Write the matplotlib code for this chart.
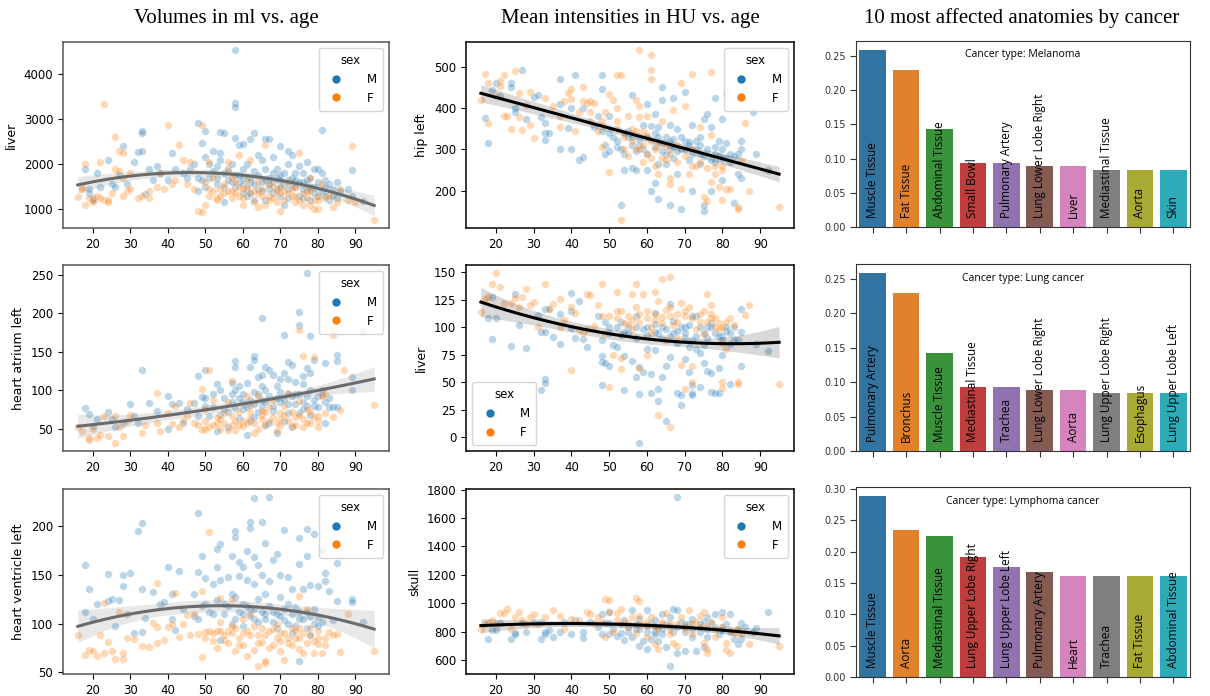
import matplotlib
matplotlib.use("Agg")
import matplotlib.pyplot as plt
import numpy as np
from matplotlib.lines import Line2D

# ---- scatter data: (age, value) ----
liver_vol_m = [
	(58, 4530), (58, 3370), (58, 3270), (33, 2740), (33, 2700), (81, 2760), (48, 2910),
	(50, 2750), (54, 2720), (55, 2690), (59, 2430), (60, 2440), (63, 2700), (66, 2550),
	(67, 2570), (62, 2550), (72, 2300), (28, 2400), (24, 2100), (18, 1900), (21, 1800),
	(25, 1550), (26, 1500), (19, 1350), (20, 1200), (27, 1750), (32, 2270), (33, 2290),
	(31, 2050), (34, 1330), (35, 1900), (37, 1950), (38, 1800), (40, 1650), (41, 2250),
	(42, 1900), (44, 1800), (46, 1900), (47, 2000), (48, 1700), (49, 2470), (50, 2150),
	(51, 2000), (52, 2300), (53, 1950), (54, 2100), (54, 2250), (55, 1800), (56, 1900),
	(57, 2000), (58, 2580), (58, 1750), (59, 1600), (60, 1900), (61, 2000), (62, 1700),
	(63, 1850), (64, 2200), (65, 1600), (66, 1900), (67, 1700), (68, 2150), (68, 1600),
	(69, 1900), (70, 2400), (70, 1500), (71, 1800), (72, 2000), (72, 1650), (73, 2200),
	(74, 1500), (75, 1950), (75, 1300), (76, 1800), (77, 2050), (77, 1400), (78, 1700),
	(79, 1900), (79, 1500), (80, 1900), (80, 1300), (81, 1800), (82, 1650), (82, 1500),
	(83, 1200), (84, 1450), (85, 1600), (85, 1250), (89, 1870), (89, 1300), (62, 1350),
	(63, 1200), (66, 1200), (57, 1600), (55, 1150), (53, 1700), (50, 1500), (48, 1400),
	(64, 1450), (68, 1350), (71, 1100), (73, 1550), (76, 1600), (78, 1200), (60, 1550),
	(61, 1300), (65, 2100), (69, 1700), (74, 1800), (70, 1650), (67, 1450), (59, 1750),
	(56, 1650), (58, 1500), (60, 1700), (61, 1450), (62, 1600), (63, 1550), (64, 1750),
	(65, 1400), (66, 1650), (67, 1550), (68, 1800), (69, 1450), (70, 1750), (71, 1550),
	(72, 1450), (73, 1700), (74, 1650), (75, 1600), (76, 1450), (77, 1650), (78, 1500),
	(79, 1350), (80, 1600), (81, 1400), (82, 1300), (83, 1550), (84, 1300), (86, 1400),
	(88, 1450), (92, 1180), (52, 1850), (51, 1700), (49, 1650), (53, 1550), (55, 1500),
	(45, 1700), (60, 1350), (70, 1300), (76, 1250), (72, 1250), (19, 1450), (20, 1250),
	(22, 1500), (29, 1550), (36, 1650),
]
liver_vol_f = [
	(23, 3340), (40, 2880), (49, 2870), (26, 2600), (43, 2430), (27, 2300), (28, 2250),
	(18, 2000), (22, 2050), (17, 1500), (16, 1270), (18, 1100), (20, 1200), (23, 1200),
	(24, 1200), (26, 1900), (27, 1850), (28, 1700), (29, 1400), (30, 1800), (33, 1300),
	(35, 1250), (37, 1500), (38, 1800), (39, 1450), (41, 1550), (42, 1650), (44, 2100),
	(45, 1550), (46, 2050), (47, 1450), (48, 950), (49, 930), (50, 1100), (51, 1300),
	(52, 1400), (53, 1250), (54, 1450), (55, 1350), (56, 2050), (57, 1400), (58, 1600),
	(59, 1300), (60, 1100), (61, 1500), (62, 2100), (63, 1400), (64, 1050), (65, 1300),
	(66, 2430), (67, 1300), (68, 1500), (69, 1150), (70, 950), (71, 1400), (72, 1600),
	(73, 1300), (74, 1150), (75, 2250), (76, 1100), (77, 1400), (78, 1700), (79, 1200),
	(80, 1000), (80, 1300), (81, 1550), (83, 1300), (84, 1050), (86, 1450), (88, 1200),
	(95, 770), (89, 2400), (56, 1850), (59, 2200), (52, 1700), (50, 1600), (51, 2050),
	(53, 1200), (60, 1450), (64, 1600), (67, 1200), (70, 1350), (74, 1500), (78, 1100),
	(54, 1300), (57, 1700), (55, 1550), (56, 1400), (57, 1250), (58, 1350), (59, 1500),
	(60, 1250), (61, 1650), (62, 1350), (63, 1150), (64, 1350), (65, 1450), (66, 1100),
	(67, 1550), (68, 1250), (69, 1400), (70, 1500), (71, 1200), (72, 1350), (73, 1450),
	(74, 1300), (75, 1200), (76, 1350), (77, 1250), (78, 1400), (79, 1000), (80, 1200),
	(82, 1250), (85, 1150), (90, 1150), (51, 1450), (17, 1450), (19, 1250), (20, 1150),
	(21, 1300), (22, 1250), (24, 1150), (25, 1350), (28, 1300), (30, 1450), (32, 1250),
	(35, 1400),
]

atrium_m = [
	(77, 252), (75, 202), (65, 194), (75, 185), (71, 172), (78, 171), (92, 177), (33, 126),
	(50, 126), (58, 138), (58, 130), (63, 145), (63, 140), (62, 130), (66, 130), (67, 127),
	(72, 137), (73, 133), (77, 129), (79, 140), (82, 135), (85, 146), (85, 138), (64, 117),
	(65, 120), (70, 115), (71, 122), (74, 111), (76, 119), (78, 122), (89, 117), (89, 100),
	(18, 77), (19, 69), (21, 63), (24, 72), (25, 62), (30, 82), (32, 58), (35, 83),
	(37, 73), (40, 93), (41, 82), (43, 84), (45, 75), (47, 83), (48, 119), (48, 67),
	(49, 91), (50, 80), (52, 95), (53, 108), (53, 47), (54, 101), (55, 90), (56, 72),
	(57, 95), (58, 77), (59, 106), (60, 85), (61, 110), (61, 42), (62, 60), (63, 98),
	(64, 72), (65, 88), (66, 100), (67, 57), (68, 73), (69, 105), (70, 85), (71, 60),
	(72, 82), (73, 52), (74, 95), (75, 70), (76, 108), (77, 92), (78, 68), (79, 80),
	(80, 93), (81, 94), (82, 57), (83, 78), (84, 78), (85, 78), (20, 53), (26, 52),
	(28, 58), (31, 67), (40, 50), (44, 58), (51, 66), (56, 52), (59, 64), (66, 55),
	(69, 45), (72, 115), (68, 120), (60, 75), (63, 65), (57, 110), (55, 75), (57, 85),
	(59, 90), (60, 95), (61, 78), (62, 88), (63, 82), (64, 95), (65, 78), (66, 85),
	(67, 92), (68, 80), (69, 90), (70, 98), (71, 88), (72, 70), (73, 92), (74, 82),
	(75, 95), (76, 85), (77, 80), (78, 100), (79, 88), (80, 78), (81, 100), (82, 85),
	(83, 90), (52, 78), (54, 68), (50, 90), (58, 100), (65, 105), (72, 95), (76, 75),
]
atrium_f = [
	(75, 178), (84, 177), (84, 172), (76, 145), (79, 143), (51, 126), (87, 126), (57, 112),
	(95, 81), (37, 97), (49, 102), (19, 35), (19, 38), (16, 52), (17, 47), (20, 50),
	(21, 38), (22, 42), (23, 67), (24, 41), (26, 32), (26, 66), (27, 52), (28, 40),
	(29, 60), (30, 68), (33, 45), (34, 55), (37, 58), (38, 47), (40, 70), (41, 56),
	(42, 80), (43, 52), (44, 60), (46, 84), (47, 57), (48, 55), (49, 48), (50, 75),
	(51, 52), (52, 88), (53, 65), (54, 50), (55, 70), (56, 85), (57, 55), (58, 48),
	(59, 72), (60, 53), (61, 92), (62, 62), (63, 45), (64, 93), (65, 68), (66, 55),
	(67, 78), (68, 88), (69, 47), (70, 62), (71, 80), (72, 97), (73, 54), (74, 65),
	(75, 86), (76, 52), (77, 75), (78, 58), (80, 60), (80, 67), (81, 92), (82, 95),
	(86, 74), (52, 55), (55, 57), (60, 60), (65, 73), (70, 70), (62, 80), (50, 49),
	(45, 66), (50, 60), (53, 57), (54, 62), (56, 48), (57, 67), (58, 60), (59, 55),
	(61, 58), (62, 70), (63, 58), (64, 50), (65, 62), (66, 72), (67, 60), (68, 65),
	(69, 58), (70, 55), (71, 68), (72, 60), (73, 72), (74, 55), (75, 68), (76, 62),
	(77, 58), (78, 72), (79, 65), (80, 52), (82, 70), (84, 65),
]

ventricle_m = [
	(48, 213), (63, 228), (67, 229), (33, 203), (32, 195), (62, 204), (65, 204), (62, 198),
	(71, 196), (77, 197), (79, 192), (58, 195), (58, 188), (75, 187), (66, 182), (54, 181),
	(53, 176), (61, 174), (81, 175), (69, 171), (57, 169), (18, 160), (49, 169), (63, 168),
	(77, 169), (59, 163), (68, 165), (85, 162), (75, 161), (40, 158), (53, 158), (24, 151),
	(28, 150), (30, 152), (43, 154), (48, 153), (60, 158), (64, 160), (72, 148), (82, 152),
	(19, 135), (28, 138), (33, 135), (41, 130), (47, 130), (50, 147), (52, 140), (54, 145),
	(56, 148), (59, 149), (61, 145), (63, 140), (65, 150), (67, 143), (70, 150), (73, 135),
	(76, 135), (78, 139), (80, 138), (82, 143), (83, 133), (18, 112), (20, 105), (21, 120),
	(24, 123), (25, 125), (26, 98), (27, 124), (29, 110), (31, 90), (33, 91), (34, 106),
	(36, 132), (38, 120), (39, 122), (41, 105), (42, 93), (44, 115), (47, 108), (49, 118),
	(51, 112), (53, 124), (55, 120), (57, 130), (58, 127), (60, 120), (62, 115), (64, 125),
	(66, 130), (68, 112), (70, 127), (71, 104), (72, 120), (74, 117), (75, 105), (77, 112),
	(79, 115), (80, 107), (81, 102), (84, 104), (85, 123), (89, 125), (89, 122), (92, 102),
	(75, 62), (54, 83), (57, 100), (63, 105), (69, 95), (73, 90), (78, 88), (60, 97),
	(66, 110), (55, 110), (56, 118), (58, 105), (59, 112), (60, 110), (61, 118), (62, 108),
	(63, 115), (64, 102), (65, 112), (66, 105), (67, 118), (68, 102), (69, 110), (70, 108),
	(71, 115), (72, 100), (73, 110), (74, 98), (75, 112), (76, 105), (77, 95), (78, 108),
	(79, 100), (80, 98), (52, 110), (50, 120), (48, 105),
]
ventricle_f = [
	(51, 194), (37, 141), (49, 133), (42, 131), (54, 126), (57, 125), (75, 128), (23, 121),
	(16, 88), (18, 68), (19, 73), (20, 72), (21, 67), (22, 88), (23, 70), (24, 81),
	(25, 72), (26, 64), (27, 112), (28, 64), (28, 70), (29, 85), (31, 84), (33, 77),
	(35, 76), (36, 101), (37, 80), (37, 96), (39, 83), (40, 96), (41, 100), (43, 86),
	(44, 100), (45, 109), (46, 88), (47, 110), (48, 89), (49, 66), (50, 91), (51, 92),
	(52, 90), (53, 75), (54, 102), (55, 83), (56, 92), (57, 98), (58, 72), (59, 78),
	(60, 105), (61, 67), (62, 110), (63, 73), (64, 88), (65, 81), (66, 60), (67, 75),
	(68, 94), (69, 85), (70, 72), (71, 63), (72, 80), (73, 95), (74, 85), (75, 74),
	(76, 70), (77, 115), (78, 95), (79, 70), (80, 85), (80, 79), (81, 70), (82, 78),
	(83, 91), (85, 89), (86, 71), (88, 110), (95, 72), (64, 57), (66, 62), (60, 90),
	(53, 92), (70, 90), (75, 95), (50, 85), (52, 82), (54, 92), (55, 88), (56, 80),
	(57, 90), (58, 95), (59, 85), (60, 78), (61, 92), (62, 88), (63, 98), (64, 80),
	(65, 95), (66, 88), (67, 92), (68, 78), (69, 100), (70, 82), (71, 90), (72, 85),
	(73, 78), (74, 92), (75, 85), (76, 90), (77, 80), (78, 88), (79, 82), (80, 92),
	(82, 85), (84, 88),
]

hip_m = [
	(27, 492), (41, 481), (48, 480), (37, 470), (20, 460), (24, 460), (24, 452), (19, 445),
	(21, 430), (30, 428), (31, 432), (56, 432), (64, 452), (70, 440), (78, 424), (88, 390),
	(80, 375), (17, 377), (18, 315), (25, 400), (25, 390), (28, 375), (32, 378), (33, 365),
	(33, 340), (33, 322), (34, 340), (37, 410), (37, 302), (39, 353), (40, 400), (40, 302),
	(42, 275), (43, 282), (43, 400), (46, 355), (47, 380), (48, 447), (48, 345), (49, 310),
	(49, 290), (50, 380), (50, 295), (51, 330), (52, 305), (53, 165), (54, 250), (54, 290),
	(55, 345), (56, 310), (56, 255), (57, 295), (57, 250), (58, 325), (59, 300), (59, 360),
	(60, 410), (60, 250), (61, 357), (61, 200), (62, 385), (62, 218), (63, 355), (63, 180),
	(64, 420), (64, 295), (65, 330), (65, 265), (66, 360), (66, 165), (67, 425), (67, 325),
	(68, 350), (68, 240), (69, 155), (69, 300), (70, 320), (71, 275), (72, 360), (72, 200),
	(73, 320), (74, 290), (74, 330), (75, 150), (75, 165), (75, 375), (76, 385), (77, 355),
	(77, 200), (78, 305), (79, 320), (80, 280), (80, 225), (81, 315), (81, 280), (82, 290),
	(83, 285), (83, 170), (84, 240), (85, 320), (85, 230), (85, 300), (89, 290), (92, 250),
	(60, 330), (62, 340), (66, 300), (71, 318), (53, 300), (55, 330), (63, 265), (67, 280),
	(74, 265), (78, 270), (58, 310), (60, 290), (62, 305), (63, 330), (64, 315), (65, 290),
	(66, 320), (67, 305), (68, 295), (69, 330), (70, 300), (71, 310), (72, 290), (73, 300),
	(74, 310), (75, 285), (76, 300), (77, 275), (78, 290), (79, 285), (80, 300), (82, 270),
	(84, 290), (50, 340), (52, 320), (54, 340), (56, 330),
]
hip_f = [
	(58, 540), (61, 528), (61, 492), (61, 470), (52, 480), (17, 482), (25, 490), (22, 480),
	(77, 488), (72, 482), (69, 462), (16, 420), (18, 460), (18, 365), (20, 430), (21, 465),
	(21, 455), (22, 382), (23, 382), (24, 350), (26, 437), (26, 378), (27, 347), (28, 408),
	(29, 360), (29, 440), (30, 328), (33, 425), (35, 405), (37, 380), (37, 355), (38, 418),
	(39, 437), (40, 447), (40, 422), (41, 345), (42, 390), (43, 452), (43, 418), (44, 412),
	(45, 418), (45, 370), (46, 413), (47, 345), (48, 305), (49, 390), (50, 435), (50, 245),
	(51, 420), (52, 400), (52, 370), (53, 480), (53, 130), (54, 300), (55, 380), (55, 285),
	(56, 350), (57, 420), (57, 300), (58, 405), (58, 378), (59, 270), (60, 380), (60, 335),
	(61, 280), (62, 260), (63, 240), (64, 370), (65, 305), (66, 215), (66, 230), (67, 395),
	(68, 310), (69, 205), (70, 405), (71, 240), (72, 300), (73, 260), (74, 355), (75, 185),
	(76, 175), (77, 335), (77, 220), (78, 260), (79, 210), (80, 250), (80, 178), (81, 203),
	(81, 435), (82, 205), (84, 160), (84, 155), (85, 275), (86, 365), (87, 200), (95, 160),
	(63, 310), (59, 345), (65, 275), (52, 350), (54, 330), (56, 320), (57, 345), (58, 300),
	(59, 310), (60, 290), (61, 320), (62, 300), (64, 280), (66, 290), (68, 270), (70, 285),
	(72, 260), (74, 270), (76, 255), (78, 240), (80, 260), (48, 370), (45, 390),
]

liver_hu_m = [
	(19, 128), (25, 130), (40, 131), (42, 124), (18, 108), (20, 108), (19, 89), (24, 83),
	(26, 102), (28, 81), (31, 111), (32, 96), (33, 96), (33, 117), (34, 117), (32, 43),
	(33, 53), (33, 49), (35, 91), (37, 85), (37, 112), (40, 115), (40, 99), (41, 90),
	(43, 89), (44, 82), (47, 110), (48, 74), (48, 88), (48, 68), (48, 47), (49, 105),
	(49, 67), (50, 65), (50, 100), (51, 84), (52, 82), (53, 105), (53, 93), (54, 74),
	(54, 43), (55, 100), (56, 69), (57, 55), (57, 90), (58, 64), (58, 39), (58, -5),
	(59, 59), (59, 98), (60, 100), (60, 80), (61, 40), (61, 57), (62, 113), (62, 79),
	(63, 33), (63, 44), (63, 95), (64, 55), (64, 90), (65, 65), (65, 15), (66, 121),
	(66, 73), (67, 95), (68, 40), (68, 86), (69, 38), (69, 29), (69, 100), (70, 71),
	(70, 90), (71, 59), (71, 82), (72, 40), (72, 38), (72, 47), (73, 110), (73, 80),
	(74, 46), (74, 77), (75, 67), (75, 84), (76, 60), (76, 100), (77, 58), (77, 41),
	(78, 40), (79, 40), (79, 63), (80, 92), (80, 75), (81, 97), (82, 48), (82, 85),
	(83, 100), (84, 88), (85, 96), (85, 65), (85, 117), (89, 85), (92, 78), (57, 110),
	(62, 103), (67, 106), (72, 110), (77, 104), (70, 100), (55, 95), (57, 100), (60, 93),
	(62, 96), (64, 100), (65, 98), (66, 92), (68, 97), (70, 95), (71, 102), (72, 88),
	(73, 92), (74, 100), (75, 95), (76, 90), (77, 100), (78, 95), (79, 92), (80, 88),
	(81, 100), (82, 95), (83, 88), (52, 100), (54, 96), (50, 95),
]
liver_hu_f = [
	(20, 149), (19, 139), (21, 137), (33, 139), (48, 139), (57, 139), (64, 144), (66, 146),
	(62, 132), (52, 132), (56, 130), (28, 135), (27, 128), (25, 127), (30, 123), (37, 126),
	(44, 130), (45, 129), (18, 128), (16, 114), (17, 126), (22, 122), (24, 122), (26, 118),
	(29, 120), (31, 100), (34, 117), (35, 121), (37, 100), (38, 107), (40, 118), (40, 61),
	(41, 113), (42, 98), (43, 95), (44, 98), (46, 101), (47, 120), (48, 110), (49, 95),
	(50, 46), (51, 75), (52, 108), (53, 62), (53, 115), (54, 104), (55, 103), (56, 98),
	(57, 118), (58, 112), (59, 130), (60, 108), (60, 75), (61, 100), (62, 107), (63, 124),
	(64, 109), (65, 116), (65, 88), (66, 9), (66, 118), (67, 102), (68, 112), (69, 66),
	(69, 122), (70, 44), (70, 110), (71, 118), (72, 65), (72, 50), (73, 98), (74, 105),
	(75, 94), (75, 115), (76, 130), (77, 120), (77, 108), (78, 100), (79, 98), (80, 50),
	(80, 45), (80, 86), (81, 80), (82, 108), (84, 50), (84, 48), (86, 111), (87, 120),
	(95, 48), (63, 20), (58, 63), (53, 72), (61, 95), (68, 90), (55, 110), (58, 105),
	(60, 115), (62, 112), (64, 104), (66, 110), (68, 105), (70, 115), (72, 108), (74, 112),
	(76, 105), (77, 112), (78, 108), (79, 104), (80, 100), (81, 105), (83, 102), (52, 115),
	(50, 110), (56, 107),
]

skull_m = [
	(18, 745), (19, 810), (20, 810), (21, 860), (24, 750), (25, 790), (25, 780), (27, 860),
	(28, 795), (30, 870), (32, 745), (32, 870), (33, 800), (33, 780), (34, 810), (35, 760),
	(37, 800), (38, 870), (40, 785), (41, 880), (43, 755), (43, 800), (45, 870), (47, 830),
	(48, 925), (48, 780), (49, 860), (50, 940), (50, 780), (51, 820), (52, 765), (53, 790),
	(54, 880), (54, 740), (55, 800), (56, 950), (56, 760), (57, 820), (58, 700), (58, 890),
	(59, 735), (60, 950), (60, 800), (60, 680), (61, 860), (61, 750), (62, 780), (62, 880),
	(63, 730), (63, 830), (64, 920), (64, 780), (65, 690), (65, 850), (66, 560), (66, 900),
	(67, 960), (67, 800), (68, 1745), (68, 650), (68, 950), (69, 870), (70, 660), (70, 800),
	(71, 850), (72, 890), (72, 760), (73, 660), (74, 800), (75, 690), (75, 870), (76, 900),
	(76, 760), (77, 860), (78, 920), (79, 780), (80, 940), (80, 830), (81, 850), (82, 925),
	(83, 750), (84, 710), (85, 860), (85, 750), (89, 825), (92, 935), (57, 850), (62, 800),
	(70, 830), (74, 850), (55, 830), (58, 820), (60, 840), (62, 830), (64, 820), (66, 840),
	(68, 830), (70, 850), (72, 820), (74, 830), (76, 820), (78, 830), (80, 810), (82, 800),
	(84, 820), (86, 830), (88, 800), (53, 850), (50, 860),
]
skull_f = [
	(16, 820), (17, 850), (18, 860), (19, 880), (20, 850), (21, 930), (22, 930), (23, 960),
	(24, 820), (25, 900), (26, 940), (27, 880), (28, 850), (29, 900), (30, 920), (31, 850),
	(33, 900), (35, 950), (37, 910), (38, 820), (40, 890), (42, 880), (44, 940), (45, 920),
	(46, 860), (47, 900), (48, 870), (49, 1030), (49, 760), (50, 1020), (50, 940), (51, 800),
	(52, 930), (53, 960), (54, 870), (55, 830), (56, 900), (57, 1035), (57, 790), (58, 1015),
	(58, 910), (59, 850), (60, 760), (61, 900), (62, 710), (63, 680), (63, 820), (64, 870),
	(65, 930), (66, 780), (67, 720), (68, 700), (69, 900), (70, 820), (71, 950), (72, 780),
	(73, 870), (74, 910), (75, 720), (75, 940), (76, 650), (76, 680), (77, 870), (78, 760),
	(80, 900), (81, 720), (81, 670), (82, 650), (83, 790), (85, 780), (87, 710), (95, 700),
	(60, 840), (66, 810), (55, 860), (58, 850), (60, 870), (62, 840), (64, 850), (66, 860),
	(68, 850), (70, 840), (72, 860), (74, 830), (76, 840), (78, 820), (80, 830), (82, 810),
	(84, 820), (52, 880),
]

# ---- bar data ----
melanoma_labels = ["Muscle Tissue", "Fat Tissue", "Abdominal Tissue", "Small Bowl",
	"Pulmonary Artery", "Lung Lower Lobe Right", "Liver", "Mediastinal Tissue", "Aorta", "Skin"]
melanoma_vals = [0.259, 0.230, 0.143, 0.093, 0.093, 0.089, 0.089, 0.084, 0.084, 0.084]

lung_labels = ["Pulmonary Artery", "Bronchus", "Muscle Tissue", "Mediastinal Tissue",
	"Trachea", "Lung Lower Lobe Right", "Aorta", "Lung Upper Lobe Right", "Esophagus",
	"Lung Upper Lobe Left"]
lung_vals = [0.259, 0.230, 0.143, 0.093, 0.093, 0.089, 0.089, 0.084, 0.084, 0.084]

lymphoma_labels = ["Muscle Tissue", "Aorta", "Mediastinal Tissue", "Lung Upper Lobe Right",
	"Lung Upper Lobe Left", "Pulmonary Artery", "Heart", "Trachea", "Fat Tissue",
	"Abdominal Tissue"]
lymphoma_vals = [0.289, 0.234, 0.225, 0.191, 0.176, 0.167, 0.162, 0.162, 0.162, 0.162]

BAR_COLORS = ["#3274a1", "#e1812c", "#3a923a", "#c03d3e", "#9372b2",
	"#845b53", "#d684bd", "#7f7f7f", "#a9aa35", "#2eabb8"]
C_M = "#1f77b4"
C_F = "#ff7f0e"

W, H = 1210, 696


def px_axes(fig, x0, y0, x1, y1):
	return fig.add_axes([x0 / W, 1 - y1 / H, (x1 - x0) / W, (y1 - y0) / H])


def fit_curve(x, y, order, xs):
	"""Least-squares polynomial fit with a 95% confidence band."""
	X = np.vander(x, order + 1)
	beta, *_ = np.linalg.lstsq(X, y, rcond=None)
	resid = y - X @ beta
	s2 = resid @ resid / (len(x) - order - 1)
	cov = s2 * np.linalg.inv(X.T @ X)
	Xs = np.vander(xs, order + 1)
	yhat = Xs @ beta
	se = np.sqrt(np.einsum("ij,jk,ik->i", Xs, cov, Xs))
	return yhat, yhat - 1.96 * se, yhat + 1.96 * se


def scatter_panel(ax, pts_m, pts_f, ylabel, order, line_color, legend_loc, spine_color):
	m = np.array(pts_m, dtype=float)
	f = np.array(pts_f, dtype=float)
	ax.scatter(m[:, 0], m[:, 1], s=30, c=C_M, alpha=0.3, edgecolors="white", linewidths=0.6)
	ax.scatter(f[:, 0], f[:, 1], s=30, c=C_F, alpha=0.3, edgecolors="white", linewidths=0.6)

	x = np.concatenate([m[:, 0], f[:, 0]])
	y = np.concatenate([m[:, 1], f[:, 1]])
	xs = np.linspace(x.min(), x.max(), 100)
	yhat, lo, hi = fit_curve(x, y, order, xs)
	ax.fill_between(xs, lo, hi, color=line_color, alpha=0.15, linewidth=0)
	ax.plot(xs, yhat, color=line_color, linewidth=2.2)

	ax.set_ylabel(ylabel, fontsize=9)
	ax.set_xticks(range(20, 100, 10))
	ax.tick_params(labelsize=8.5, length=3.5)
	for sp in ax.spines.values():
		sp.set_color(spine_color)
		sp.set_linewidth(1.1)

	handles = [
		Line2D([], [], marker="o", linestyle="", color=C_M, markersize=7, markeredgecolor="white"),
		Line2D([], [], marker="o", linestyle="", color=C_F, markersize=7, markeredgecolor="white"),
	]
	ax.legend(handles, ["M", "F"], title="sex", loc=legend_loc, fontsize=8.5,
		title_fontsize=8.5, handletextpad=1.6, borderpad=0.5)


def bar_panel(ax, labels, vals, cancer):
	pos = np.arange(len(labels))
	ax.bar(pos, vals, width=0.8, color=BAR_COLORS)
	ax.set_xlim(-0.5, len(labels) - 0.5)
	ax.set_xticks(pos)
	ax.set_xticklabels([])
	ax.tick_params(labelsize=7, length=4, colors="#333333")
	for p, lab in zip(pos, labels):
		ax.annotate(lab, (p, 0), xytext=(0, 6.5), textcoords="offset points", rotation=90,
			ha="center", va="bottom", fontsize=8.5, family=["Open Sans", "DejaVu Sans"])
	ax.text(0.5, 0.925, f"Cancer type: {cancer}", transform=ax.transAxes, ha="center",
		va="center", fontsize=7.5, family=["Open Sans", "DejaVu Sans"])
	for sp in ax.spines.values():
		sp.set_color("#333333")


def main():
	fig = plt.figure(figsize=(W / 100, H / 100), dpi=100)

	rows12 = [(42, 228), (265, 451), (489, 674)]
	rows3 = [(41, 227), (264, 451), (487, 677)]

	col1 = [
		(liver_vol_m, liver_vol_f, "liver"),
		(atrium_m, atrium_f, "heart atrium left"),
		(ventricle_m, ventricle_f, "heart ventricle left"),
	]
	col2 = [
		(hip_m, hip_f, "hip left", 1, "upper right"),
		(liver_hu_m, liver_hu_f, "liver", 2, "lower left"),
		(skull_m, skull_f, "skull", 2, "upper right"),
	]
	col3 = [
		(melanoma_labels, melanoma_vals, "Melanoma"),
		(lung_labels, lung_vals, "Lung cancer"),
		(lymphoma_labels, lymphoma_vals, "Lymphoma cancer"),
	]

	for (y0, y1), (pm, pf, lab) in zip(rows12, col1):
		ax = px_axes(fig, 63, y0, 389, y1)
		scatter_panel(ax, pm, pf, lab, 2, "#6b6b6b", "upper right", "#555555")

	for (y0, y1), (pm, pf, lab, order, loc) in zip(rows12, col2):
		ax = px_axes(fig, 466, y0, 794, y1)
		scatter_panel(ax, pm, pf, lab, order, "black", loc, "black")

	for (y0, y1), (labels, vals, cancer) in zip(rows3, col3):
		ax = px_axes(fig, 856, y0, 1190, y1)
		bar_panel(ax, labels, vals, cancer)

	title_font = dict(fontsize=15, family=["Liberation Serif", "DejaVu Serif"], ha="center", va="center")
	fig.text(226 / W, 1 - 18 / H, "Volumes in ml vs. age", **title_font)
	fig.text(630 / W, 1 - 18 / H, "Mean intensities in HU vs. age", **title_font)
	fig.text(1022 / W, 1 - 18 / H, "10 most affected anatomies by cancer", **title_font)

	fig.savefig("out.png", dpi=100)


if __name__ == "__main__":
	main()
